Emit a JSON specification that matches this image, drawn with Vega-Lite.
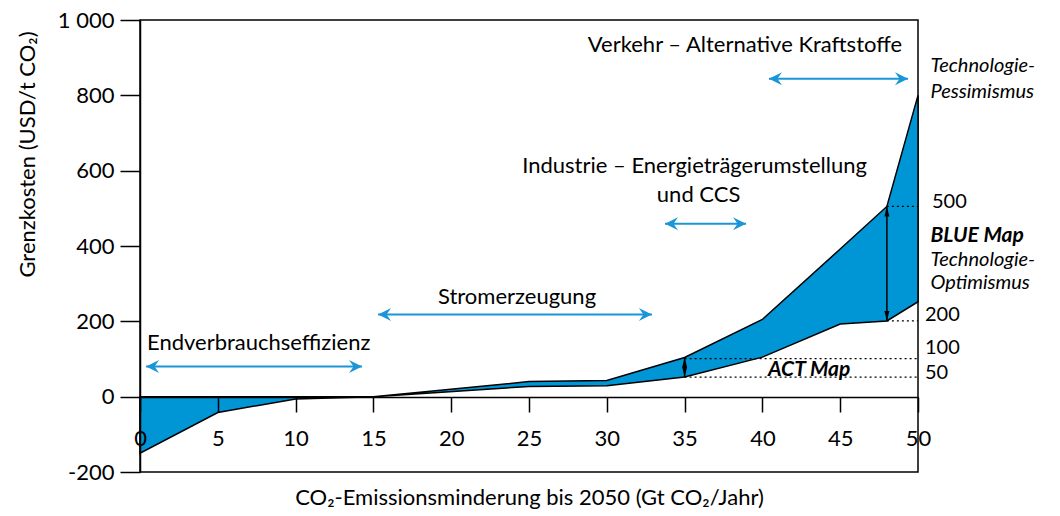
{
  "$schema": "https://vega.github.io/schema/vega-lite/v6.json",
  "width": 778,
  "height": 452,
  "autosize": {"type": "none"},
  "padding": {"left": 140, "top": 20, "right": 142, "bottom": 44},
  "background": "white",
  "config": {
    "view": {"stroke": "black", "strokeWidth": 1.5},
    "font": "Lato",
    "text": {"font": "Lato", "fontSize": 22, "color": "black"}
  },
  "datasets": {
    "curve": [
      {"x": 0, "y": 0, "y2": -150},
      {"x": 5, "y": 0, "y2": -42},
      {"x": 10, "y": 0, "y2": -6},
      {"x": 15, "y": 0, "y2": 0},
      {"x": 25, "y": 40, "y2": 27},
      {"x": 30, "y": 43, "y2": 29},
      {"x": 35, "y": 104, "y2": 52},
      {"x": 40, "y": 205, "y2": 105},
      {"x": 45, "y": 392, "y2": 193},
      {"x": 48, "y": 505, "y2": 201},
      {"x": 50, "y": 800, "y2": 252}
    ],
    "dotted": [
      {"x": 48, "x2": 50, "y": 505},
      {"x": 48, "x2": 50, "y": 201},
      {"x": 35, "x2": 50, "y": 101},
      {"x": 35, "x2": 50, "y": 52}
    ],
    "vArrows": [
      {"x": 48, "y": 505, "y2": 201},
      {"x": 35, "y": 104, "y2": 52}
    ],
    "hArrows": [
      {"x": 0.39, "x2": 14.27, "y": 80},
      {"x": 15.3, "x2": 32.9, "y": 218},
      {"x": 33.74, "x2": 38.95, "y": 459},
      {"x": 40.42, "x2": 49.36, "y": 844}
    ],
    "centerLabels": [
      {"x": 38.88, "y": 933, "text": "Verkehr – Alternative Kraftstoffe"},
      {"x": 35.64, "y": 613, "text": "Industrie – Energieträgerumstellung"},
      {"x": 35.9, "y": 536, "text": "und CCS"},
      {"x": 24.23, "y": 265, "text": "Stromerzeugung"}
    ],
    "leftLabels": [
      {"x": 0.45, "y": 143, "text": "Endverbrauchseffizienz"}
    ],
    "rightNumbers": [
      {"x": 50.9, "y": 516, "text": "500"},
      {"x": 50.45, "y": 218, "text": "200"},
      {"x": 50.45, "y": 130, "text": "100"},
      {"x": 50.45, "y": 63, "text": "50"}
    ],
    "italicLabels": [
      {"x": 50.8, "y": 879, "text": "Technologie-"},
      {"x": 50.8, "y": 810, "text": "Pessimismus"},
      {"x": 50.8, "y": 364, "text": "Technologie-"},
      {"x": 50.8, "y": 303, "text": "Optimismus"}
    ],
    "boldLabels": [
      {"x": 50.8, "y": 427, "text": "BLUE Map"},
      {"x": 40.36, "y": 72, "text": "ACT Map"}
    ]
  },
  "encoding": {
    "x": {
      "field": "x",
      "type": "quantitative",
      "scale": {"domain": [0, 50], "nice": false, "zero": false},
      "axis": {
        "values": [0, 5, 10, 15, 20, 25, 30, 35, 40, 45, 50],
        "offset": -75,
        "zindex": 1,
        "grid": false,
        "domainColor": "black",
        "domainWidth": 1.5,
        "tickColor": "black",
        "tickWidth": 1.5,
        "tickSize": 15,
        "labelPadding": 16,
        "labelFont": "Lato",
        "labelFontSize": 22,
        "labelColor": "black",
        "labelFlush": false,
        "labelOverlap": false,
        "title": "CO₂-Emissionsminderung bis 2050 (Gt CO₂/Jahr)",
        "titleFont": "Lato",
        "titleFontSize": 22,
        "titleFontWeight": "normal",
        "titleColor": "black",
        "titleBaseline": "middle",
        "titleY": 100,
        "titleX": 389
      }
    },
    "y": {
      "field": "y",
      "type": "quantitative",
      "scale": {"domain": [-200, 1000], "nice": false, "zero": false},
      "axis": {
        "values": [-200, 0, 200, 400, 600, 800, 1000],
        "labelExpr": "datum.value == 1000 ? '1 000' : '' + datum.value",
        "zindex": 1,
        "grid": false,
        "domainColor": "black",
        "domainWidth": 1.5,
        "tickColor": "black",
        "tickWidth": 1.5,
        "tickSize": 20,
        "labelPadding": 6,
        "labelFont": "Lato",
        "labelFontSize": 22,
        "labelColor": "black",
        "labelFlush": false,
        "labelOverlap": false,
        "title": "Grenzkosten (USD/t CO₂)",
        "titleFont": "Lato",
        "titleFontSize": 22,
        "titleFontWeight": "normal",
        "titleColor": "black",
        "titleAngle": -90,
        "titleAlign": "center",
        "titleBaseline": "middle",
        "titleX": -113,
        "titleY": 134
      }
    }
  },
  "layer": [
    {
      "data": {"name": "curve"},
      "mark": {"type": "area", "fill": "#0096d6", "stroke": "black", "strokeWidth": 1.5, "opacity": 1},
      "encoding": {"y2": {"field": "y2"}}
    },
    {
      "data": {"name": "dotted"},
      "mark": {"type": "rule", "color": "black", "strokeWidth": 1.2, "strokeDash": [2, 3]},
      "encoding": {"x2": {"field": "x2"}}
    },
    {
      "data": {"name": "vArrows"},
      "mark": {"type": "rule", "color": "black", "strokeWidth": 1.5},
      "encoding": {"y2": {"field": "y2"}}
    },
    {
      "data": {"name": "vArrows"},
      "mark": {"type": "point", "shape": "M 0 0 L -1 4 L 1 4 Z", "filled": true, "color": "black", "size": 25, "opacity": 1, "strokeWidth": 0},
      "encoding": {}
    },
    {
      "data": {"name": "vArrows"},
      "mark": {"type": "point", "shape": "M 0 0 L -1 -4 L 1 -4 Z", "filled": true, "color": "black", "size": 25, "opacity": 1, "strokeWidth": 0},
      "encoding": {"y": {"field": "y2", "type": "quantitative", "title": "Grenzkosten (USD/t CO₂)"}}
    },
    {
      "data": {"name": "hArrows"},
      "mark": {"type": "rule", "color": "#1a96d8", "strokeWidth": 2},
      "encoding": {"x2": {"field": "x2"}}
    },
    {
      "data": {"name": "hArrows"},
      "mark": {"type": "point", "shape": "M 0 0 L 2 -1 L 1.3 0 L 2 1 Z", "filled": true, "color": "#1a96d8", "size": 170, "opacity": 1, "strokeWidth": 0},
      "encoding": {}
    },
    {
      "data": {"name": "hArrows"},
      "mark": {"type": "point", "shape": "M 0 0 L -2 -1 L -1.3 0 L -2 1 Z", "filled": true, "color": "#1a96d8", "size": 170, "opacity": 1, "strokeWidth": 0},
      "encoding": {"x": {"field": "x2", "type": "quantitative", "title": "CO₂-Emissionsminderung bis 2050 (Gt CO₂/Jahr)"}}
    },
    {
      "data": {"name": "centerLabels"},
      "mark": {"type": "text", "align": "center", "baseline": "middle", "fontSize": 22},
      "encoding": {"text": {"field": "text"}}
    },
    {
      "data": {"name": "leftLabels"},
      "mark": {"type": "text", "align": "left", "baseline": "middle", "fontSize": 22},
      "encoding": {"text": {"field": "text"}}
    },
    {
      "data": {"name": "rightNumbers"},
      "mark": {"type": "text", "align": "left", "baseline": "middle", "fontSize": 20},
      "encoding": {"text": {"field": "text"}}
    },
    {
      "data": {"name": "italicLabels"},
      "mark": {"type": "text", "align": "left", "baseline": "middle", "fontSize": 20, "fontStyle": "italic"},
      "encoding": {"text": {"field": "text"}}
    },
    {
      "data": {"name": "boldLabels"},
      "mark": {"type": "text", "align": "left", "baseline": "middle", "fontSize": 21, "fontStyle": "italic", "fontWeight": "bold"},
      "encoding": {"text": {"field": "text"}}
    }
  ]
}
